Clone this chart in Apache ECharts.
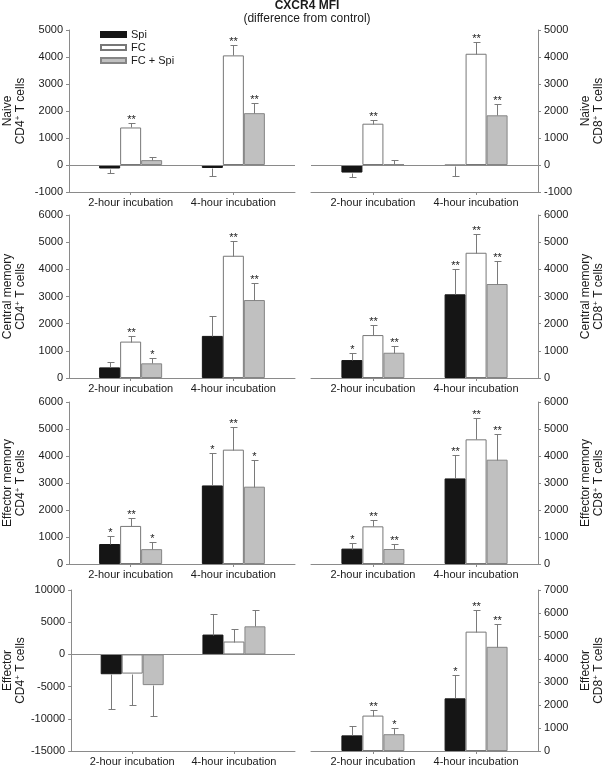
<!DOCTYPE html>
<html><head><meta charset="utf-8">
<script src="https://cdn.jsdelivr.net/npm/echarts@6/dist/echarts.min.js"></script>
<style>html,body{margin:0;padding:0;background:#fff}#c{width:607px;height:767px}</style>
</head><body><div id="c"></div>
<script>
// ---------- data ----------
const categories = ['2-hour incubation', '4-hour incubation'];
const seriesNames = ['Spi', 'FC', 'FC + Spi'];

// rows of each array: [Spi, FC, FC + Spi]; columns: [2-hour, 4-hour]
const naiveCD4Mean = [[-130, -110], [1390, 4060], [180, 1920]];
const naiveCD4Err  = [[150, 300], [150, 370], [130, 370]];
const naiveCD4Sig  = [['', ''], ['**', '**'], ['', '**']];

const naiveCD8Mean = [[-280, -20], [1530, 4120], [30, 1840]];
const naiveCD8Err  = [[150, 390], [140, 440], [150, 430]];
const naiveCD8Sig  = [['', ''], ['**', '**'], ['', '**']];

const cmCD4Mean = [[390, 1550], [1340, 4500], [540, 2870]];
const cmCD4Err  = [[210, 730], [210, 550], [185, 610]];
const cmCD4Sig  = [['', ''], ['**', '**'], ['*', '**']];

const cmCD8Mean = [[660, 3080], [1580, 4610], [930, 3460]];
const cmCD8Err  = [[250, 920], [370, 690], [250, 860]];
const cmCD8Sig  = [['*', '**'], ['**', '**'], ['**', '**']];

const emCD4Mean = [[740, 2910], [1410, 4235], [550, 2864]];
const emCD4Err  = [[300, 1190], [285, 840], [250, 990]];
const emCD4Sig  = [['*', '*'], ['**', '**'], ['*', '*']];

const emCD8Mean = [[570, 3170], [1395, 4617], [556, 3864]];
const emCD8Err  = [[220, 850], [220, 790], [200, 950]];
const emCD8Sig  = [['*', '**'], ['**', '**'], ['**', '**']];

const effCD4Mean = [[-3080, 3080], [-2980, 2000], [-4770, 4360]];
const effCD4Err  = [[5390, 3180], [4820, 1950], [4730, 2570]];
const effCD4Sig  = [['', ''], ['', ''], ['', '']];

const effCD8Mean = [[680, 2290], [1540, 5190], [730, 4530]];
const effCD8Err  = [[400, 1030], [240, 950], [260, 990]];
const effCD8Sig  = [['', '*'], ['**', '**'], ['*', '**']];

const yTitlesLeft  = ['Naive', 'Central memory', 'Effector memory', 'Effector'];
const yAxisMin  = [-1000, 0, 0, -15000];
const yAxisMaxL = [5000, 6000, 6000, 10000];
const yAxisMaxR = [5000, 6000, 6000, 7000];
const yStepL = [1000, 1000, 1000, 5000];
const yStepR = [1000, 1000, 1000, 1000];
const yMinR = [-1000, 0, 0, 0];

// ---------- style ----------
const FONT = '"Liberation Sans", Arial, sans-serif';
const TEXT = '#1a1a1a';
const AXIS = '#8a8a8a';
const ERR = '#7a7a7a';
const BAR_W = 21;
const barColors = ['#151515', '#ffffff', '#c0c0c0'];
const barBorders = ['#151515', '#777777', '#858585'];

const rowTop = [30, 215, 402, 590];
const rowH = [162, 163, 162, 162];
const colLeft = [68, 311];
const colW = 227;

const panels = [
  {m: naiveCD4Mean, e: naiveCD4Err, s: naiveCD4Sig, row: 0, col: 0, cd: 'CD4'},
  {m: naiveCD8Mean, e: naiveCD8Err, s: naiveCD8Sig, row: 0, col: 1, cd: 'CD8'},
  {m: cmCD4Mean, e: cmCD4Err, s: cmCD4Sig, row: 1, col: 0, cd: 'CD4'},
  {m: cmCD8Mean, e: cmCD8Err, s: cmCD8Sig, row: 1, col: 1, cd: 'CD8'},
  {m: emCD4Mean, e: emCD4Err, s: emCD4Sig, row: 2, col: 0, cd: 'CD4'},
  {m: emCD8Mean, e: emCD8Err, s: emCD8Sig, row: 2, col: 1, cd: 'CD8'},
  {m: effCD4Mean, e: effCD4Err, s: effCD4Sig, row: 3, col: 0, cd: 'CD4'},
  {m: effCD8Mean, e: effCD8Err, s: effCD8Sig, row: 3, col: 1, cd: 'CD8'}
];

const grids = [], xAxes = [], yAxes = [], series = [];

panels.forEach((p, gi) => {
  const left = p.col === 0;
  grids.push({left: colLeft[p.col], top: rowTop[p.row], width: colW, height: rowH[p.row], containLabel: false});
  xAxes.push({
    gridIndex: gi, type: 'value', min: 0.4, max: 2.6,
    axisLine: {show: true, onZero: false, lineStyle: {color: AXIS, width: 1}},
    axisTick: {show: true, customValues: [1, 2], length: 3, lineStyle: {color: AXIS}},
    axisLabel: {show: true, customValues: [1, 2], formatter: v => categories[Math.round(v) - 1],
      fontSize: 11, fontFamily: FONT, color: TEXT, margin: 5},
    splitLine: {show: false}
  });
  const ymin = left ? yAxisMin[p.row] : yMinR[p.row];
  const ymax = left ? yAxisMaxL[p.row] : yAxisMaxR[p.row];
  const step = left ? yStepL[p.row] : yStepR[p.row];
  yAxes.push({
    gridIndex: gi, type: 'value', min: ymin, max: ymax, interval: step,
    position: left ? 'left' : 'right',
    axisLine: {show: true, lineStyle: {color: AXIS, width: 1}},
    axisTick: {show: true, length: 3, lineStyle: {color: AXIS}},
    axisLabel: {fontSize: 11, fontFamily: FONT, color: TEXT, margin: 6, formatter: v => String(v)},
    splitLine: {show: false},
    name: yTitlesLeft[p.row] + '\n' + p.cd + '{sup|+} T cells',
    nameLocation: 'middle', nameRotate: 90, nameGap: left ? 42 : 41,
    nameTextStyle: {fontSize: 12, fontFamily: FONT, color: TEXT, lineHeight: 13,
      rich: {sup: {fontSize: 8, fontFamily: FONT, color: TEXT, verticalAlign: 'top', lineHeight: 8}}}
  });
  const needZero = ymin < 0;
  for (let k = 0; k < 3; k++) {
    const bar = {
      type: 'bar', name: seriesNames[k], xAxisIndex: gi, yAxisIndex: gi,
      barWidth: BAR_W, barGap: '0%',
      itemStyle: {color: barColors[k], borderColor: barBorders[k], borderWidth: 1},
      data: p.m[k].map((v, i) => [i + 1, v]),
      silent: true
    };
    if (needZero && k === 0) {
      bar.markLine = {silent: true, symbol: ['none', 'none'], label: {show: false},
        lineStyle: {color: AXIS, width: 1, type: 'solid'}, data: [{yAxis: 0}], animation: false};
    }
    series.push(bar);
    const sig = p.s[k];
    series.push({
      type: 'custom', xAxisIndex: gi, yAxisIndex: gi, z: 5, silent: true,
      data: p.m[k].map((v, i) => [i + 1, v, p.e[k][i]]),
      renderItem: (params, api) => {
        const x = api.value(0), m = api.value(1), e = api.value(2);
        const p0 = api.coord([x, m]);
        const p1 = api.coord([x, m < 0 ? m - e : m + e]);
        const cx = Math.round(p0[0] + (k - 1) * BAR_W) + 0.5;
        const y0 = Math.round(p0[1]) + 0.5, y1 = Math.round(p1[1]) + 0.5;
        const children = [
          {type: 'line', shape: {x1: cx, y1: y0, x2: cx, y2: y1}, style: {stroke: ERR, lineWidth: 1}},
          {type: 'line', shape: {x1: cx - 3, y1: y1, x2: cx + 4, y2: y1}, style: {stroke: ERR, lineWidth: 1}}
        ];
        const s = sig[params.dataIndex];
        if (s) children.push({type: 'text', style: {text: s, x: cx, y: y1 + 2, align: 'center',
          verticalAlign: 'bottom', fontSize: 11, fontFamily: FONT, fill: TEXT}});
        return {type: 'group', children};
      }
    });
  }
});

const chart = echarts.init(document.getElementById('c'), null, {renderer: 'canvas'});
chart.setOption({
  animation: false,
  backgroundColor: '#fff',
  title: {text: 'CXCR4 MFI', subtext: '(difference from control)', left: 307, textAlign: 'center',
    top: 0, padding: 0, itemGap: 1,
    textStyle: {fontSize: 12, fontWeight: 'bold', fontFamily: FONT, color: TEXT},
    subtextStyle: {fontSize: 12, fontFamily: FONT, color: TEXT}},
  legend: {data: seriesNames, orient: 'vertical', left: 100, top: 29, padding: 0,
    itemWidth: 25, itemHeight: 5, itemGap: 2, icon: 'rect', selectedMode: false,
    textStyle: {fontSize: 11, fontFamily: FONT, color: TEXT}},
  grid: grids, xAxis: xAxes, yAxis: yAxes, series
});
</script></body></html>
